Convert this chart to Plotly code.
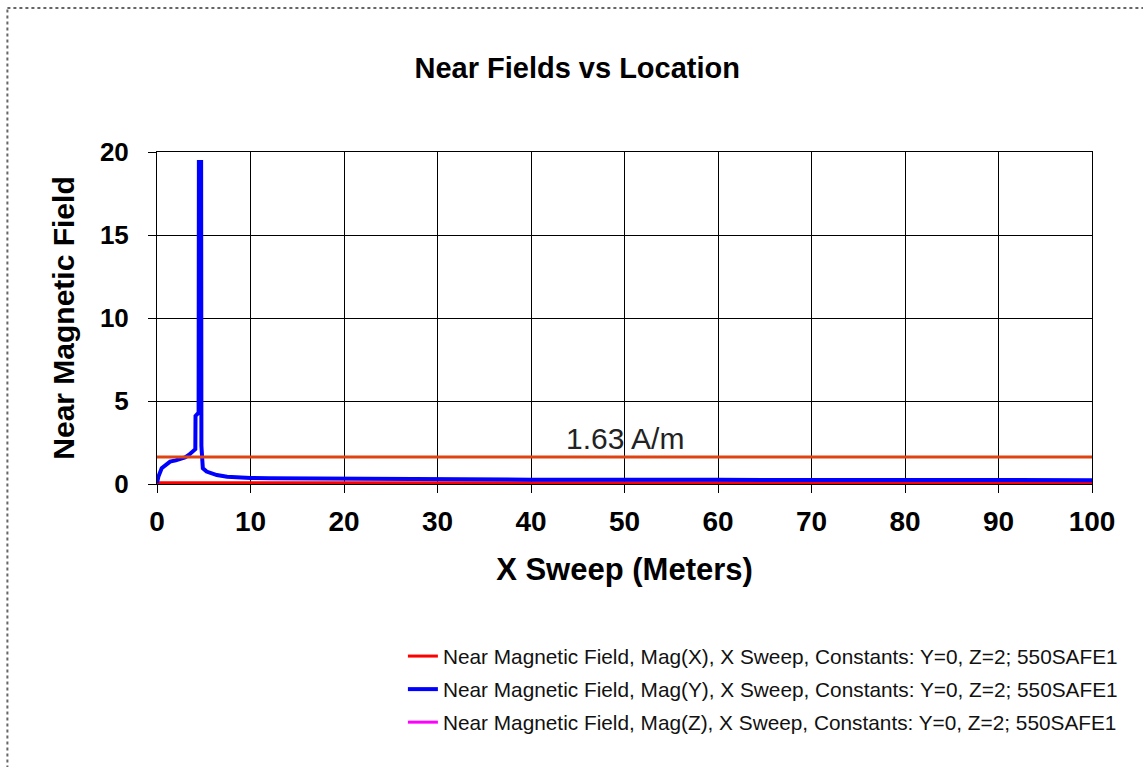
import plotly.graph_objects as go

# Sweep positions (m) and field magnitudes (A/m)
x_y = [0.0, 0.15, 0.5, 1.0, 1.4, 2.0, 2.5, 3.0, 3.4, 3.8, 4.1, 4.12, 4.45, 4.48, 4.72,
       4.75, 4.8, 4.9, 5.3, 6.0, 6.4, 7.5, 8.9, 10, 12, 15, 17.2, 17.5, 25, 40, 60, 80, 100]
mag_y = [0.05, 0.45, 0.95, 1.2, 1.35, 1.42, 1.48, 1.6, 1.75, 1.95, 2.1, 4.1, 4.3, 19.4, 19.4,
         2.3, 1.6, 0.95, 0.75, 0.6, 0.54, 0.44, 0.38, 0.36, 0.35, 0.34, 0.33, 0.28, 0.27,
         0.26, 0.25, 0.24, 0.23]

x_x = [0, 5, 10, 20, 40, 60, 80, 100]
mag_x = [0.08, 0.08, 0.08, 0.08, 0.08, 0.08, 0.08, 0.08]

x_z = [0, 100]
mag_z = [0.0, 0.0]

limit = 1.63
limit_label = "1.63 A/m"

x_ticks = [0, 10, 20, 30, 40, 50, 60, 70, 80, 90, 100]
y_ticks = [0, 5, 10, 15, 20]

names = [
    "Near Magnetic Field, Mag(X), X Sweep, Constants: Y=0, Z=2; 550SAFE1",
    "Near Magnetic Field, Mag(Y), X Sweep, Constants: Y=0, Z=2; 550SAFE1",
    "Near Magnetic Field, Mag(Z), X Sweep, Constants: Y=0, Z=2; 550SAFE1",
]

FONT = "Liberation Sans, Arial, sans-serif"

fig = go.Figure()
# Z drawn first so X sits over it along the axis
fig.add_trace(go.Scatter(x=x_z, y=mag_z, mode="lines", name=names[2], legendrank=3,
                         legendgroup="z", line=dict(color="#FF00FF", width=3)))
fig.add_trace(go.Scatter(x=x_x, y=mag_x, mode="lines", name=names[0], legendrank=1,
                         legendgroup="x", line=dict(color="#FF0000", width=3)))
fig.add_trace(go.Scatter(x=x_y, y=mag_y, mode="lines", name=names[1], legendrank=2,
                         legendgroup="y", line=dict(color="#0000FF", width=4)))

# exposure limit line
fig.add_shape(type="line", xref="x", yref="y", x0=0, x1=100, y0=limit, y1=limit,
              line=dict(color="#DD4411", width=3), layer="above")
fig.add_annotation(x=50, y=limit, xref="x", yref="y", text=limit_label, showarrow=False,
                   yanchor="bottom", yshift=0, font=dict(family=FONT, size=30, color="#222222"))

# dotted frame around the chart: only top and left edges fall inside the page
fig.add_shape(type="line", xref="paper", yref="paper", x0=-0.16, x1=1.3, y0=1.434, y1=1.434,
              line=dict(color="#666666", width=2, dash="dot"), layer="below")
fig.add_shape(type="line", xref="paper", yref="paper", x0=-0.16, x1=-0.16, y0=-1.2, y1=1.434,
              line=dict(color="#666666", width=2, dash="dot"), layer="below")

axis_common = dict(showline=True, linecolor="black", linewidth=1, mirror=True,
                   showgrid=True, gridcolor="black", gridwidth=1, zeroline=False,
                   ticks="outside", ticklen=8, tickcolor="black", tickwidth=1)

fig.update_xaxes(range=[0, 100], tickvals=x_ticks, ticklabelstandoff=4,
                 tickfont=dict(family=FONT, size=28, color="black", weight="bold"),
                 title=dict(text="X Sweep (Meters)", standoff=22,
                            font=dict(family=FONT, size=31, color="black", weight="bold")),
                 **axis_common)
fig.update_yaxes(range=[0, 20], tickvals=y_ticks, ticklabelstandoff=14,
                 tickfont=dict(family=FONT, size=26, color="black", weight="bold"),
                 title=dict(text="Near Magnetic Field", standoff=16,
                            font=dict(family=FONT, size=30, color="black", weight="bold")),
                 **axis_common)

fig.update_layout(
    width=1143, height=767,
    margin=dict(l=157, r=51, t=152, b=283),
    paper_bgcolor="white", plot_bgcolor="white",
    title=dict(text="Near Fields vs Location", x=0.505, xanchor="center",
               y=1 - 68 / 767, yanchor="middle",
               font=dict(family=FONT, size=29, color="black", weight="bold")),
    showlegend=True,
    legend=dict(x=0.263, xanchor="left", y=-0.458, yanchor="top",
                font=dict(family=FONT, size=20.8, color="#111111"),
                tracegroupgap=3, bgcolor="rgba(0,0,0,0)", itemwidth=30),
)

fig.write_html("out.html")
